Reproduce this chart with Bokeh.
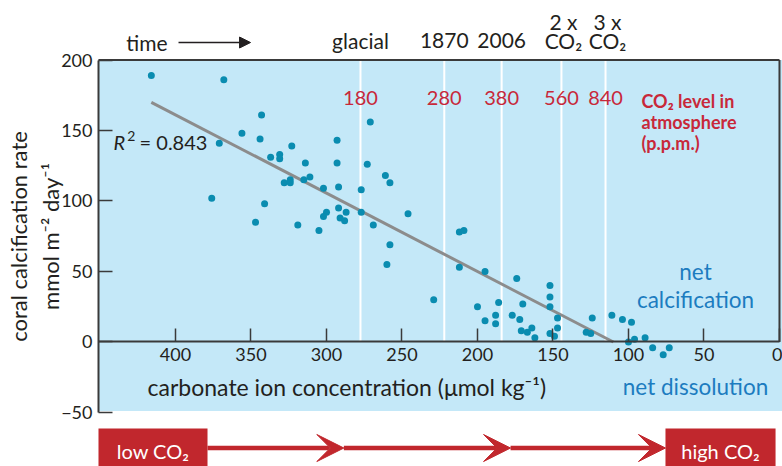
from bokeh.plotting import figure
from bokeh.models import Range1d, FixedTicker, Arrow, VeeHead, NormalHead
from bokeh.core.properties import value
from bokeh.embed import file_html
from bokeh.resources import INLINE

# ---------------- data ----------------
carbonate = [416, 368, 343, 271, 371, 356, 344, 323, 293, 337, 331, 331, 314, 293,
             273, 261, 258, 328, 324, 324, 315, 311, 302, 292, 277, 376, 341, 292,
             287, 277, 246, 300, 302, 291, 288, 347, 319, 269, 305, 258, 260, 229,
             212, 209, 212, 195, 174, 152, 152, 152, 147, 147, 152, 149, 200, 186,
             195, 188, 188, 177, 172, 170, 171, 167, 164, 162, 124, 128, 125, 111,
             104, 98, 100, 96, 89, 84, 77, 73]
calcification = [189, 186, 161, 156, 141, 148, 144, 139, 143, 131, 133, 130, 127, 127,
                 126, 118, 113, 113, 115, 113, 115, 117, 109, 110, 108, 102, 98, 95,
                 92, 92, 91, 92, 89, 88, 86, 85, 83, 83, 79, 69, 55, 30,
                 78, 79, 53, 50, 45, 40, 32, 25, 17, 10, 6, 4, 25, 28,
                 15, 19, 13, 19, 16, 27, 8, 7, 10, 3, 17, 7, 6, 19,
                 16, 14, 0, 2, 3, -4, -9, -4]

fit_x = [416, 110]
fit_y = [170, 0]
r_squared = "0.843"

co2_ppm = ["180", "280", "380", "560", "840"]
co2_carbonate = [277.5, 222, 184, 144.4, 115.2]
era_labels = ["glacial", "1870", "2006", "2 x", "3 x"]

x_ticks = [400, 350, 300, 250, 200, 150, 100, 50, 0]
y_ticks = [-50, 0, 50, 100, 150, 200]

# ---------------- style ----------------
FONT = "Lato"
DARK = "#231f20"
AXIS = "#3a3a3a"
RED = "#c1272d"
RED_TXT = "#c8283a"
BLUE_TXT = "#1c7cc0"
BG = "#c4e8f8"
DOT = "#0a8cb0"

X_MAX = 451  # left edge of the chart panel (carbonate axis is reversed)

p = figure(width=782, height=466,
           x_range=Range1d(515.9, -2.0), y_range=Range1d(-88.3, 242.2),
           output_backend="svg", toolbar_location=None,
           min_border_left=0, min_border_right=0, min_border_top=0, min_border_bottom=0,
           background_fill_color="white", border_fill_color="white",
           outline_line_color=None)
p.grid.visible = False

# blue panel
p.quad(left=X_MAX, right=-2.0, bottom=-49, top=200, fill_color=BG, line_color=None)

# CO2 reference lines
p.segment(x0=co2_carbonate, y0=0, x1=co2_carbonate, y1=200, line_color="white", line_width=2)

# top and right borders
p.segment(x0=[X_MAX, 0], y0=[200, 0], x1=[0, 0], y1=[200, 200], line_color=AXIS, line_width=2)

# regression line and points
p.line(fit_x, fit_y, line_color="#8c8c8c", line_width=3)
p.scatter(carbonate, calcification, size=7, fill_color=DOT, line_color=None)

# axes
xa = p.xaxis[0]
xa.fixed_location = 0
xa.bounds = (0, X_MAX)
xa.ticker = FixedTicker(ticks=x_ticks)
xa.major_tick_in = 13
xa.major_tick_out = 0
xa.minor_tick_in = 0
xa.minor_tick_out = 0
xa.axis_line_width = 2
xa.axis_line_color = AXIS
xa.major_tick_line_color = AXIS
xa.major_tick_line_width = 1.5
xa.major_label_text_font = FONT
xa.major_label_text_font_size = "18px"
xa.major_label_text_color = DARK
xa.major_label_standoff = 6

ya = p.yaxis[0]
ya.fixed_location = X_MAX
ya.bounds = (-50, 200)
ya.ticker = FixedTicker(ticks=y_ticks)
ya.major_label_overrides = {-50: "\u221250"}
ya.major_tick_in = 14
ya.major_tick_out = 0
ya.minor_tick_in = 0
ya.minor_tick_out = 0
ya.axis_line_width = 2
ya.axis_line_color = AXIS
ya.major_tick_line_color = AXIS
ya.major_tick_line_width = 1.5
ya.major_label_text_font = FONT
ya.major_label_text_font_size = "18px"
ya.major_label_text_color = DARK
ya.major_label_standoff = 6
ya.axis_label = "coral calcification rate\nmmol m\u207b\u00b2 day\u207b\u00b9"
ya.axis_label_text_font = FONT
ya.axis_label_text_font_size = "22px"
ya.axis_label_text_font_style = "normal"
ya.axis_label_text_color = DARK
ya.axis_label_standoff = -6

def txt(x, y, t, size, color=DARK, align="center", style="normal"):
    p.text(x=x, y=y, text=t, text_font=value(FONT), text_font_size=size,
           text_color=color, text_align=align, text_baseline="middle",
           text_font_style=style)

# top labels
txt([418.9], [212.4], ["time"], "21px")
p.add_layout(Arrow(end=NormalHead(size=11, fill_color=DARK, line_color=DARK),
                   x_start=398, y_start=212.4, x_end=350.3, y_end=212.4,
                   line_color=DARK, line_width=1.5))
txt(co2_carbonate[:3], [213.5] * 3, era_labels[:3], "21px")
txt([c - 1.3 for c in co2_carbonate[3:]], [227.3] * 2, era_labels[3:], "21px")
txt([c - 1.3 for c in co2_carbonate[3:]], [213.5] * 2, ["CO\u2082"] * 2, "21px")

# CO2 ppm numbers
txt(co2_carbonate, [173.4] * 5, co2_ppm, "20px", color=RED_TXT)
txt([91.4] * 3, [170.6, 155.7, 140.8], ["CO\u2082 level in", "atmosphere", "(p.p.m.)"],
    "18px", color=RED_TXT, align="left", style="bold")

# R^2
txt([441.1], [141.7], ["R"], "20px", align="left", style="italic")
txt([432.0], [146.0], ["2"], "14px", align="left")
txt([423.8], [141.7], ["= " + r_squared], "20px", align="left")

# region labels
txt([55.6, 55.6], [50.0, 30.1], ["net", "calcification"], "22.5px", color=BLUE_TXT)
txt([55.6], [-31.6], ["net dissolution"], "22.5px", color=BLUE_TXT)
txt([418.5], [-31.6], ["carbonate ion concentration (\u03bcmol kg\u207b\u00b9)"], "23px", align="left")

# bottom CO2 arrow bar
p.quad(left=[X_MAX, 75.5], right=[378.8, 2.6], top=-61.3, bottom=-95, fill_color=RED, line_color=None)
arrow_start = [378.8, 288.5, 178.1]
arrow_end = [288.5, 178.1, 75.5]
for xs, xe in zip(arrow_start, arrow_end):
    p.add_layout(Arrow(end=VeeHead(size=27, fill_color=RED, line_color=RED, line_width=1),
                       x_start=xs, y_start=-75.2, x_end=xe, y_end=-75.2,
                       line_color=RED, line_width=4.5))
txt([414.9, 39.1], [-77.0, -77.0], ["low CO\u2082", "high CO\u2082"], "20px", color="white")

open("out.html", "w").write(file_html(p, INLINE))
